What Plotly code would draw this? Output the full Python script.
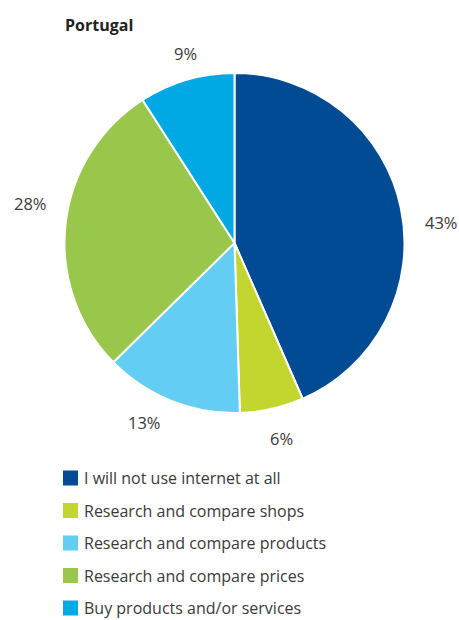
import math
import plotly.graph_objects as go

# Survey answers for Portugal (share of respondents, %)
categories = [
    "I will not use internet at all",
    "Research and compare shops",
    "Research and compare products",
    "Research and compare prices",
    "Buy products and/or services",
]
shares = [43, 6, 13, 28, 9]
colors = ["#004B93", "#C2D62F", "#64CDF4", "#98C74B", "#00A9E4"]

W, H = 459, 620
FONT = "Open Sans"
TEXT = "#3a3a3a"

# Pie geometry in pixels
cx, cy, rad = 234.5, 243.0, 170.0

# Label placement style: distance from centre and small angular nudges (deg)
label_dist = [208, 201, 201, 208, 196]
label_nudge = [6.2, -0.9, 4.7, 4.7, 2.0]


def px(x):
    return x / W


def py(y):
    return 1 - y / H


fig = go.Figure(
    go.Pie(
        labels=categories,
        values=shares,
        sort=False,
        direction="clockwise",
        rotation=0,
        marker=dict(colors=colors, line=dict(color="white", width=2)),
        textinfo="none",
        hoverinfo="label+percent",
        showlegend=False,
        domain=dict(x=[px(cx - rad), px(cx + rad)], y=[py(cy + rad), py(cy - rad)]),
    )
)

annotations = []
shapes = []

# Percentage labels outside each slice
total = sum(shares)
cum = 0.0
for i, v in enumerate(shares):
    mid = (cum + v / 2) / total * 360 + label_nudge[i]
    cum += v
    a = math.radians(mid)
    lx = cx + label_dist[i] * math.sin(a)
    ly = cy - label_dist[i] * math.cos(a)
    annotations.append(
        dict(
            x=px(lx), y=py(ly), xref="paper", yref="paper",
            text=f"{v}%", showarrow=False,
            xanchor="center", yanchor="middle",
            font=dict(family=FONT, size=16.5, color=TEXT),
        )
    )

# Title
annotations.append(
    dict(
        x=px(63), y=py(12), xref="paper", yref="paper",
        text="<b>Portugal</b>", showarrow=False,
        xanchor="left", yanchor="top",
        font=dict(family=FONT, size=16, color="#222222"),
    )
)

# Legend drawn below the pie
leg_x, leg_top, leg_gap, sq = 63, 478.0, 32.5, 15
for i, (name, col) in enumerate(zip(categories, colors)):
    yc = leg_top + i * leg_gap
    shapes.append(
        dict(
            type="rect", xref="paper", yref="paper",
            x0=px(leg_x), x1=px(leg_x + sq),
            y0=py(yc + sq / 2), y1=py(yc - sq / 2),
            fillcolor=col, line=dict(width=0),
        )
    )
    annotations.append(
        dict(
            x=px(leg_x + 20), y=py(yc), xref="paper", yref="paper",
            text=name, showarrow=False, borderpad=0,
            xanchor="left", yanchor="middle",
            font=dict(family=FONT, size=16, color=TEXT),
        )
    )

fig.update_layout(
    width=W, height=H,
    margin=dict(l=0, r=0, t=0, b=0),
    paper_bgcolor="white",
    plot_bgcolor="white",
    annotations=annotations,
    shapes=shapes,
)

fig.write_html("out.html")
